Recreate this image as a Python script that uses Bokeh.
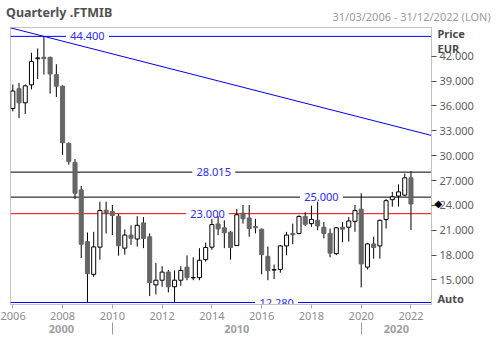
from bokeh.plotting import figure
from bokeh.models import Range1d, LinearAxis, FixedTicker
from bokeh.embed import file_html
from bokeh.resources import INLINE
from bokeh.core.properties import value

# ---- data: quarterly candles 2006 Q1 .. 2022 Q1 (index = quarter number) ----
opens = [35.70, 38.08, 36.38, 38.55, 41.70, 41.87, 41.87, 39.78, 38.39, 31.48,
         29.19, 25.87, 19.63, 15.68, 18.96, 23.42, 23.26, 22.68, 18.84, 20.42,
         19.94, 21.88, 20.22, 14.41, 14.97, 15.95, 14.18, 14.97, 16.55, 15.25,
         15.28, 17.46, 18.96, 21.76, 21.29, 20.77, 19.15, 23.06, 22.49, 21.45,
         21.13, 17.85, 16.20, 16.27, 19.11, 20.62, 20.62, 22.67, 21.80, 22.20,
         21.37, 20.62, 18.17, 21.37, 21.37, 22.08, 23.54, 16.55, 19.35, 19.11,
         22.30, 24.69, 25.12, 25.24, 27.33]
highs = [38.60, 38.79, 38.59, 42.42, 42.94, 44.40, 41.95, 41.04, 38.50, 31.60,
         29.60, 26.34, 20.73, 20.81, 24.45, 24.45, 24.05, 23.00, 21.10, 21.60,
         22.70, 22.59, 20.62, 17.06, 16.66, 16.20, 16.15, 16.66, 17.97, 17.73,
         18.84, 19.51, 22.39, 22.71, 22.20, 20.90, 23.58, 24.05, 24.05, 22.39,
         21.20, 19.03, 16.86, 19.20, 20.81, 21.80, 22.80, 23.18, 23.97, 24.45,
         22.00, 21.20, 21.40, 22.00, 22.59, 24.05, 25.47, 19.50, 20.22, 22.30,
         24.76, 25.63, 26.54, 27.84, 28.12]
lows = [35.35, 34.52, 35.04, 38.00, 39.26, 39.78, 37.49, 37.09, 30.10, 28.91,
        24.76, 17.65, 12.28, 15.36, 17.45, 20.61, 20.42, 17.93, 18.05, 19.23,
        19.03, 18.84, 13.05, 13.25, 14.18, 13.50, 12.28, 14.29, 14.97, 14.97,
        14.97, 17.20, 18.64, 20.42, 18.84, 17.45, 19.10, 21.80, 20.22, 20.62,
        15.68, 14.97, 15.10, 15.87, 17.97, 19.31, 20.50, 21.50, 21.41, 21.00,
        20.02, 17.73, 18.00, 19.55, 19.63, 20.81, 14.10, 16.27, 17.57, 17.57,
        21.21, 23.85, 23.85, 25.10, 21.01]
closes = [37.80, 36.38, 38.43, 41.36, 41.80, 41.71, 39.86, 38.39, 31.56, 29.31,
          25.47, 19.31, 15.76, 18.99, 23.38, 23.10, 22.79, 19.13, 20.42, 20.03,
          21.60, 20.02, 14.69, 14.97, 15.95, 14.18, 14.97, 16.15, 15.28, 15.30,
          17.38, 18.92, 21.68, 21.17, 20.69, 18.92, 22.87, 22.39, 21.21, 21.30,
          18.05, 16.15, 16.25, 19.11, 20.42, 20.45, 22.67, 21.72, 22.31, 21.52,
          20.62, 18.24, 21.29, 21.13, 22.12, 23.38, 16.94, 19.35, 18.92, 22.20,
          24.57, 25.04, 25.63, 27.33, 24.17]
first_year = 2006
year_ticks = [2006, 2008, 2010, 2012, 2014, 2016, 2018, 2020, 2022]
decades = ["2000", "2010", "2020"]
decade_starts = [2010, 2020]
price_ticks = [15, 18, 21, 24, 27, 30, 33, 36, 39, 42]
levels = [44.400, 28.015, 25.000, 23.000, 12.280]
level_labels = ["44.400", "28.015", "25.000", "23.000", "12.280"]
trend_anchor_idx = 5           # trend line through the 2007 Q2 high
trend_slope = -0.192           # price per quarter
title_text = "Quarterly .FTMIB"
range_text = "31/03/2006 - 31/12/2022 (LON)"
unit_texts = ["Price", "EUR", "Auto"]

# ---- styles ----
level_colors = ["#0000ff", "#000000", "#000000", "#ff0000", "#0000ff"]
level_label_pos = [12.0, 32.3, 49.6, 31.3, 42.4]
gap = 3.45
X0, X1 = -0.37, 67.3
Y0, Y1 = 12.04, 45.47
FONT = "Noto Sans"
title_pos, range_pos = 7.45, 64.1          # header text centres (x units)
unit_pos = [44.76, 42.98, 12.81]            # "Price" / "EUR" / "Auto" rows (y units)

def qidx(year):
    return (year - first_year) * 4

p = figure(width=496, height=354, x_range=Range1d(X0, X1), y_range=Range1d(Y0, Y1),
           output_backend="svg", toolbar_location=None, title=None,
           x_axis_location="below", y_axis_location="right",
           min_border_left=10, min_border_right=65, min_border_top=22, min_border_bottom=50)
p.background_fill_color = "white"
p.border_fill_color = "white"
p.outline_line_color = "#c4c4c4"
p.grid.visible = False
xa = p.below[0]
ya = p.right[0]

def bare(ax):
    ax.axis_line_color = None
    ax.major_tick_line_color = None
    ax.minor_tick_line_color = None
    ax.major_tick_out = 0
    ax.major_tick_in = 0
    ax.minor_tick_out = 0
    ax.minor_tick_in = 0
    ax.major_label_text_font = FONT

# ---- x axis (years) ----
xa.ticker = FixedTicker(ticks=[qidx(y) for y in year_ticks])
xa.major_label_overrides = {qidx(y): str(y) for y in year_ticks}
xa.axis_line_color = "#c4c4c4"
xa.major_tick_line_color = "#a8a8a8"
xa.major_tick_out = 4
xa.major_tick_in = 0
xa.minor_tick_line_color = None
xa.minor_tick_out = 0
xa.major_label_standoff = 3
xa.major_label_text_font = FONT
xa.major_label_text_font_size = "11px"
xa.major_label_text_color = "#8c8c8c"

# ---- right price axis ----
ya.ticker = FixedTicker(ticks=price_ticks)
ya.major_label_overrides = {t: f"{t:.3f}" for t in price_ticks}
ya.axis_line_color = "#c4c4c4"
ya.major_tick_line_color = "#505050"
ya.major_tick_out = 5
ya.major_tick_in = 0
ya.minor_tick_line_color = None
ya.minor_tick_out = 0
ya.major_label_standoff = 3
ya.major_label_text_font = FONT
ya.major_label_text_font_size = "11px"
ya.major_label_text_color = "#606060"

# ---- header (two label-only axes above) ----
hdr_range = LinearAxis(ticker=FixedTicker(ticks=[range_pos]),
                       major_label_overrides={range_pos: range_text})
bare(hdr_range)
hdr_range.major_label_standoff = 4
hdr_range.major_label_text_font_size = "11px"
hdr_range.major_label_text_color = "#9c9c9c"
p.add_layout(hdr_range, "above")

hdr_title = LinearAxis(ticker=FixedTicker(ticks=[title_pos]),
                       major_label_overrides={title_pos: title_text})
bare(hdr_title)
hdr_title.major_label_standoff = -15
hdr_title.major_label_text_font_size = "12.5px"
hdr_title.major_label_text_font_style = "bold"
hdr_title.major_label_text_color = "#505050"
p.add_layout(hdr_title, "above")

# decade row: labels at decade mid-points, separators as minor ticks
bounds = [X0] + [qidx(y) for y in decade_starts] + [X1]
dec_pos = [round((bounds[k] + bounds[k + 1]) / 2, 3) for k in range(len(decades))]
xd = LinearAxis(ticker=FixedTicker(ticks=dec_pos, minor_ticks=[qidx(y) for y in decade_starts]),
                major_label_overrides=dict(zip(dec_pos, decades)))
xd.axis_line_color = None
xd.major_tick_line_color = None
xd.major_tick_out = 0
xd.major_tick_in = 0
xd.minor_tick_line_color = "#999999"
xd.minor_tick_out = 12
xd.minor_tick_in = 0
xd.major_label_standoff = -10
xd.major_label_text_font = FONT
xd.major_label_text_font_size = "11px"
xd.major_label_text_font_style = "bold"
xd.major_label_text_color = "#a0a0a0"
p.add_layout(xd, "below")

# extra right-hand texts: unit header and "Auto"
ye = LinearAxis(ticker=FixedTicker(ticks=unit_pos),
                major_label_overrides=dict(zip(unit_pos, unit_texts)))
bare(ye)
ye.major_label_standoff = -39
ye.major_label_text_font_size = "11px"
ye.major_label_text_font_style = "bold"
ye.major_label_text_color = "#4a4a4a"
p.add_layout(ye, "right")

# last-price marker
ym = LinearAxis(ticker=FixedTicker(ticks=[closes[-1]]),
                major_label_overrides={closes[-1]: "◆"})
bare(ym)
ym.major_label_standoff = -42
ym.major_label_text_font = "DejaVu Sans"
ym.major_label_text_font_size = "10px"
ym.major_label_text_color = "#000000"
p.add_layout(ym, "right")

# ---- trend line ----
ta = highs[trend_anchor_idx]
p.line([X0, X1], [ta + trend_slope * (X0 - trend_anchor_idx), ta + trend_slope * (X1 - trend_anchor_idx)],
       line_color="#0000ee", line_width=1)

# ---- horizontal levels with a gap for the label ----
for lv, lab, col, pos in zip(levels, level_labels, level_colors, level_label_pos):
    p.segment(x0=[X0, pos + gap], y0=[lv, lv], x1=[pos - gap, X1], y1=[lv, lv], line_color=col, line_width=1)
    p.text(x=[pos], y=[lv], text=[lab], text_align="center", text_baseline="middle",
           text_color="#2b2bff", text_font=value(FONT), text_font_size="11px")

# ---- candles ----
idx = list(range(len(opens)))
p.segment(x0=idx, y0=lows, x1=idx, y1=highs, line_color="black", line_width=1)
up = [i for i in idx if closes[i] >= opens[i]]
dn = [i for i in idx if closes[i] < opens[i]]
p.vbar(x=up, width=0.65, top=[closes[i] for i in up], bottom=[opens[i] for i in up],
       fill_color="white", line_color="black", line_width=1)
p.vbar(x=dn, width=0.65, top=[opens[i] for i in dn], bottom=[closes[i] for i in dn],
       fill_color="#666666", line_color="#666666", line_width=1)

open("out.html", "w").write(file_html(p, INLINE))
